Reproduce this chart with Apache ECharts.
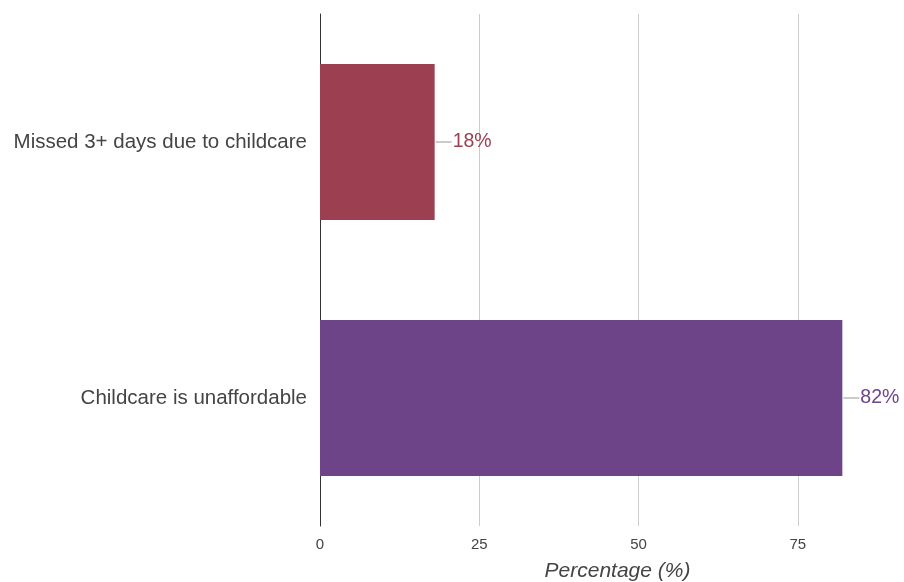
<!DOCTYPE html>
<html>
<head>
<meta charset="utf-8">
<script src="https://cdn.jsdelivr.net/npm/echarts@6/dist/echarts.min.js"></script>
<style>html,body{margin:0;padding:0;background:#fff}#c{width:904px;height:582px}</style>
</head>
<body>
<div id="c"></div>
<script>
const categories = ['Missed 3+ days due to childcare', 'Childcare is unaffordable'];
const values = [18, 82];
const barColors = ['#9b3f51', '#6e4489'];
const xTicks = [0, 25, 50, 75, 100];
const axisTitle = 'Percentage (%)';

const chart = echarts.init(document.getElementById('c'), null, {renderer: 'canvas'});
const FONT = '"Liberation Sans", Arial, sans-serif';
chart.setOption({
  animation: false,
  backgroundColor: '#fff',
  grid: {left: 320, right: -53, top: 14, bottom: 56, containLabel: false, outerBoundsMode: 'none'},
  xAxis: {
    type: 'value', min: xTicks[0], max: xTicks[xTicks.length - 1], interval: 25,
    name: axisTitle, nameLocation: 'middle', nameGap: 35,
    nameTextStyle: {fontFamily: FONT, fontStyle: 'italic', fontSize: 21, color: '#444', padding: [0, 42, 0, 0]},
    axisLine: {show: false}, axisTick: {show: false},
    axisLabel: {fontFamily: FONT, fontSize: 15, color: '#444', margin: 11,
      formatter: v => (v >= 100 ? '' : String(v))},
    splitLine: {lineStyle: {color: '#cccccc', width: 1}}
  },
  yAxis: {
    type: 'category', data: categories, inverse: true,
    axisLine: {show: true, lineStyle: {color: '#333', width: 1}},
    axisTick: {show: false},
    axisLabel: {fontFamily: FONT, fontSize: 20.5, color: '#444', margin: 13}
  },
  series: [{
    type: 'bar', barWidth: '61%',
    data: values.map((v, i) => ({value: v, itemStyle: {color: barColors[i]},
      label: {rich: {v: {color: barColors[i], fontSize: 19.5, fontFamily: FONT}}}})),
    label: {
      show: true, position: 'right', distance: 1,
      formatter: p => '{l|}{v|' + p.value + '%}',
      rich: {
        l: {width: 16, height: 1, backgroundColor: '#999999'},
        v: {fontSize: 19.5, fontFamily: FONT, padding: [0, 0, 0, 1]}
      }
    }
  }]
});
</script>
</body>
</html>
